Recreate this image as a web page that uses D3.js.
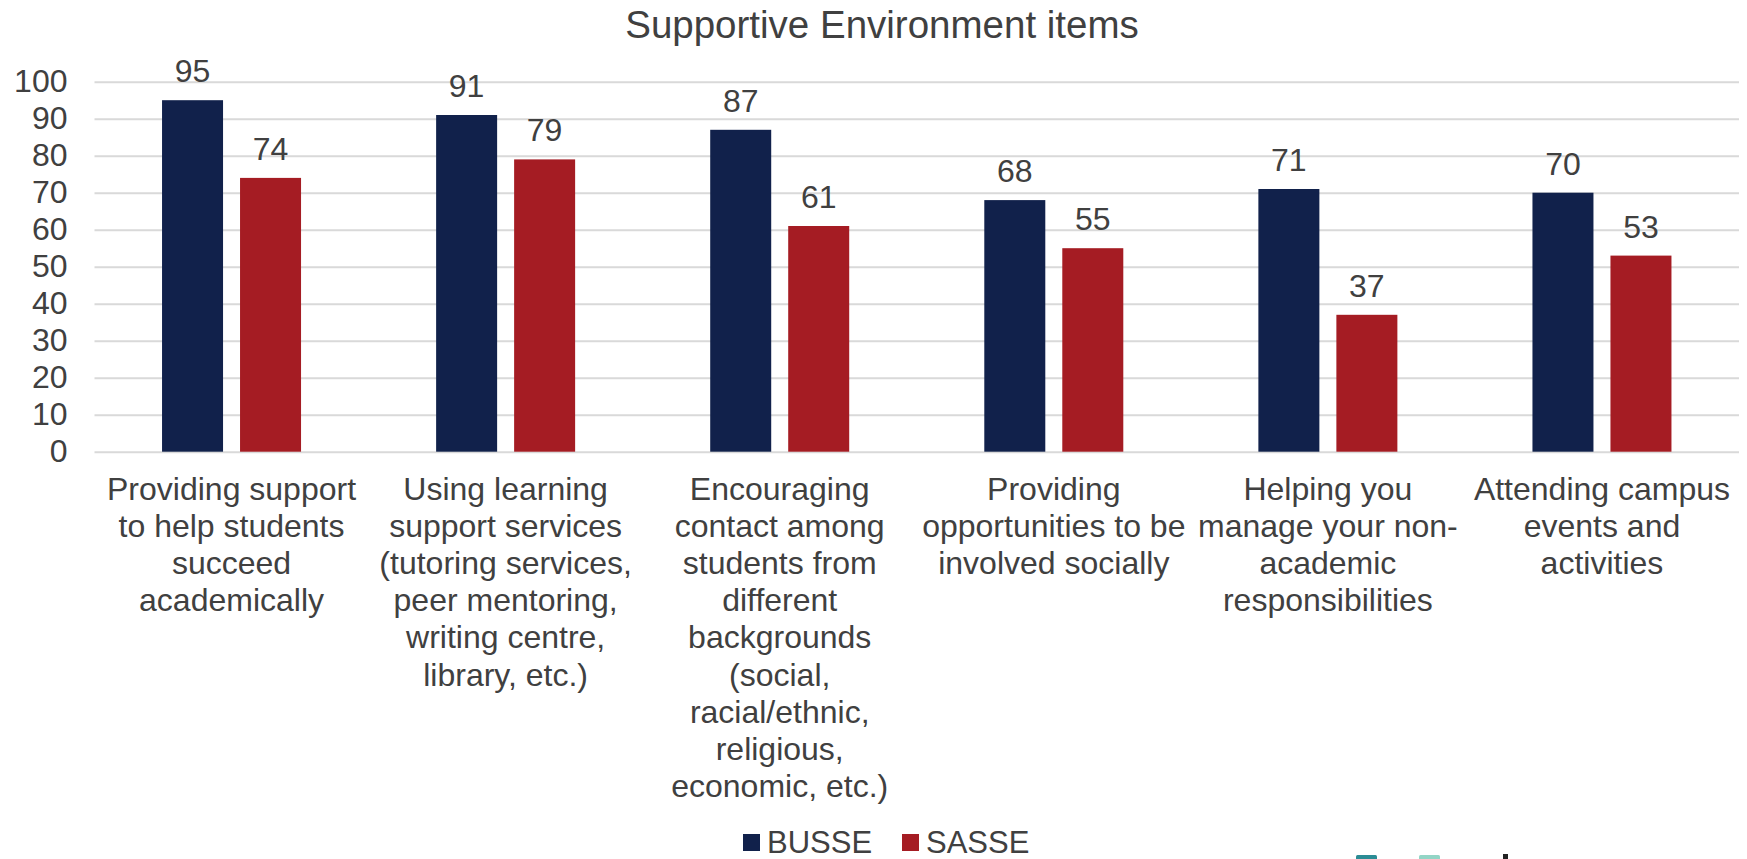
<!DOCTYPE html>
<html>
<head>
<meta charset="utf-8">
<script src="https://cdn.jsdelivr.net/npm/d3@7"></script>
<style>
  html, body { margin: 0; padding: 0; background: #ffffff; }
  svg { display: block; font-family: "Liberation Sans", Arial, sans-serif; }
</style>
</head>
<body>
<svg id="chart" width="1747" height="859"></svg>
<script>
// Survey items (each label split into its displayed lines)
const categories = [
  ["Providing support", "to help students", "succeed", "academically"],
  ["Using learning", "support services", "(tutoring services,", "peer mentoring,", "writing centre,", "library, etc.)"],
  ["Encouraging", "contact among", "students from", "different", "backgrounds", "(social,", "racial/ethnic,", "religious,", "economic, etc.)"],
  ["Providing", "opportunities to be", "involved socially"],
  ["Helping you", "manage your non-", "academic", "responsibilities"],
  ["Attending campus", "events and", "activities"]
];
const seriesNames = ["BUSSE", "SASSE"];
const busse = [95, 91, 87, 68, 71, 70];
const sasse = [74, 79, 61, 55, 37, 53];
const yTicks = [0, 10, 20, 30, 40, 50, 60, 70, 80, 90, 100];
const colors = { BUSSE: "#11214b", SASSE: "#a51c23" };
const title = "Supportive Environment items";

const textColor = "#404040";
const svg = d3.select("#chart");

const plot = { left: 94.5, right: 1739, top: 81.7, bottom: 451.7 };

const keys = categories.map((c, i) => i);
const x0 = d3.scaleBand().domain(keys).range([plot.left, plot.right]).padding(0);
const groupW = 139;
const x1 = d3.scaleBand().domain(seriesNames)
  .range([(x0.bandwidth() - groupW) / 2, (x0.bandwidth() + groupW) / 2])
  .paddingInner(17 / 78).paddingOuter(0);
const y = d3.scaleLinear().domain([0, 100]).range([plot.bottom, plot.top]);

// Gridlines and value axis
const yAxis = d3.axisLeft(y).tickValues(yTicks).tickSize(-(plot.right - plot.left)).tickFormat(d3.format("d")).tickPadding(27);
const gy = svg.append("g").attr("transform", `translate(${plot.left},0)`).call(yAxis);
gy.select(".domain").remove();
gy.selectAll(".tick line").attr("stroke", "#d9d9d9").attr("stroke-width", 2);
gy.selectAll(".tick text")
  .attr("fill", textColor)
  .attr("font-size", 32)
  .attr("font-family", "'Liberation Sans', Arial, sans-serif");

// Title
svg.append("text")
  .attr("x", 882).attr("y", 38)
  .attr("text-anchor", "middle")
  .attr("fill", textColor)
  .attr("font-size", 38.5)
  .text(title);

// Bars
const rows = keys.map(i => ({ i, values: [
  { key: "BUSSE", value: busse[i] },
  { key: "SASSE", value: sasse[i] }
]}));

const groups = svg.append("g").selectAll("g").data(rows).join("g")
  .attr("transform", d => `translate(${x0(d.i)},0)`);

groups.selectAll("rect").data(d => d.values).join("rect")
  .attr("x", d => x1(d.key))
  .attr("width", x1.bandwidth())
  .attr("y", d => y(d.value))
  .attr("height", d => y(0) - y(d.value))
  .attr("fill", d => colors[d.key]);

// Value labels
groups.selectAll("text.val").data(d => d.values).join("text")
  .attr("class", "val")
  .attr("x", d => x1(d.key) + x1.bandwidth() / 2)
  .attr("y", d => y(d.value) - 18)
  .attr("text-anchor", "middle")
  .attr("fill", textColor)
  .attr("font-size", 32)
  .text(d => d.value);

// Category labels
const catG = svg.append("g").selectAll("text").data(rows).join("text")
  .attr("x", d => x0(d.i) + x0.bandwidth() / 2)
  .attr("y", 500)
  .attr("text-anchor", "middle")
  .attr("fill", textColor)
  .attr("font-size", 32);
catG.selectAll("tspan").data(d => categories[d.i]).join("tspan")
  .attr("x", function() { return d3.select(this.parentNode).attr("x"); })
  .attr("dy", (d, j) => j === 0 ? 0 : 37.1)
  .text(d => d);

// Legend
const legendItems = [
  { key: "BUSSE", sx: 743, tx: 767 },
  { key: "SASSE", sx: 902, tx: 926 }
];
const lg = svg.append("g");
lg.selectAll("rect").data(legendItems).join("rect")
  .attr("x", d => d.sx).attr("y", 834).attr("width", 17).attr("height", 17)
  .attr("fill", d => colors[d.key]);
lg.selectAll("text").data(legendItems).join("text")
  .attr("x", d => d.tx).attr("y", 853)
  .attr("fill", textColor)
  .attr("font-size", 31)
  .text(d => d.key);

// Logo fragment at the lower edge
const logo = svg.append("g");
logo.append("rect").attr("x", 1356).attr("y", 855).attr("width", 21).attr("height", 6).attr("rx", 1.5).attr("fill", "#2b8c95");
logo.append("rect").attr("x", 1419).attr("y", 855).attr("width", 21).attr("height", 6).attr("rx", 1.5).attr("fill", "#93d5c6");
logo.append("rect").attr("x", 1503).attr("y", 854).attr("width", 5).attr("height", 6).attr("fill", "#222222");
</script>
</body>
</html>
